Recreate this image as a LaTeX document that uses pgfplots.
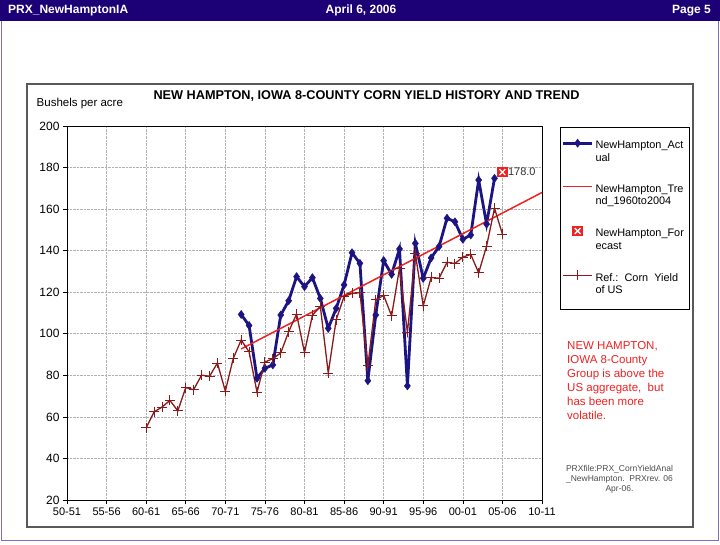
\documentclass[border=0pt]{standalone}
\usepackage{fontspec}
\setmainfont{Liberation Sans}
\usepackage{pgfplots}
\pgfplotsset{compat=1.18}

\definecolor{navyA}{HTML}{1C1483}
\definecolor{usred}{HTML}{8B1A1A}
\definecolor{trendred}{HTML}{EE2222}
\definecolor{fcred}{HTML}{EE2222}
\definecolor{hdr}{HTML}{1C0076}
\definecolor{pborder}{HTML}{8070C0}

\pgfdeclareplotmark{fcast}{%
  \pgfsetfillcolor{fcred}%
  \pgfpathrectangle{\pgfpoint{-\pgfplotmarksize}{-\pgfplotmarksize}}{\pgfpoint{2\pgfplotmarksize}{2\pgfplotmarksize}}%
  \pgfusepathqfill
  \pgfsetstrokecolor{white}%
  \pgfsetlinewidth{1.3pt}%
  \pgfpathmoveto{\pgfpoint{-0.55\pgfplotmarksize}{-0.55\pgfplotmarksize}}%
  \pgfpathlineto{\pgfpoint{0.55\pgfplotmarksize}{0.55\pgfplotmarksize}}%
  \pgfpathmoveto{\pgfpoint{-0.55\pgfplotmarksize}{0.55\pgfplotmarksize}}%
  \pgfpathlineto{\pgfpoint{0.55\pgfplotmarksize}{-0.55\pgfplotmarksize}}%
  \pgfusepathqstroke
}

\pgfplotstableread{
year yield
1972 109.3
1973 104.0
1974 78.6
1975 83.4
1976 85.0
1977 109.0
1978 115.9
1979 127.5
1980 122.7
1981 127.0
1982 117.0
1983 102.6
1984 112.2
1985 123.5
1986 139.0
1987 133.9
1988 77.4
1989 109.0
1990 135.2
1991 128.6
1992 140.8
1993 74.9
1994 143.5
1995 126.7
1996 136.5
1997 142.0
1998 155.6
1999 153.9
2000 145.5
2001 147.5
2002 174.0
2003 152.8
2004 174.8
}\actualdata

\pgfplotstableread{
year yield
1960 54.7
1961 62.4
1962 64.7
1963 67.9
1964 62.9
1965 74.1
1966 73.1
1967 80.1
1968 79.5
1969 85.9
1970 72.4
1971 88.1
1972 97.0
1973 91.3
1974 71.9
1975 86.4
1976 88.0
1977 90.8
1978 101.0
1979 109.5
1980 91.0
1981 108.9
1982 113.2
1983 81.1
1984 106.7
1985 118.0
1986 119.4
1987 119.8
1988 84.6
1989 116.3
1990 118.5
1991 108.6
1992 131.5
1993 100.7
1994 138.6
1995 113.5
1996 127.1
1997 126.7
1998 134.4
1999 133.8
2000 136.9
2001 138.2
2002 129.3
2003 142.2
2004 160.4
2005 148.0
}\usdata

\newcommand{\lent}[2]{\parbox[b]{90pt}{\raggedright #1\\#2}}

\begin{document}
\begin{tikzpicture}[x=1pt,y=1pt]
\useasboundingbox (0,0) rectangle (720,545);
\fill[white] (0,0) rectangle (720,545);
\fill[hdr] (0,524) rectangle (720,545);
\draw[pborder, line width=1.5pt] (1.5,524) -- (1.5,4.5) -- (718.5,4.5) -- (718.5,524);
\node[anchor=west, text=white, font=\bfseries\fontsize{12}{14}\selectfont, inner sep=0pt] at (8,534.5) {PRX\_NewHamptonIA};
\node[anchor=center, text=white, font=\bfseries\fontsize{12}{14}\selectfont, inner sep=0pt] at (361,534.5) {April 6, 2006};
\node[anchor=east, text=white, font=\bfseries\fontsize{12}{14}\selectfont, inner sep=0pt] at (711,534.5) {Page 5};

\draw[black!65, line width=1.2pt] (27,18) rectangle (693,461);

\node[anchor=center, font=\bfseries\fontsize{12.7}{15}\selectfont, inner sep=0pt] at (366.5,449) {NEW HAMPTON, IOWA 8-COUNTY CORN YIELD HISTORY AND TREND};
\node[anchor=west, font=\fontsize{11.5}{14}\selectfont, inner sep=0pt] at (36.5,441) {Bushels per acre};

\node[anchor=north west, align=left, text=fcred, font=\fontsize{11.5}{14}\selectfont, inner sep=0pt] at (567,204) {NEW HAMPTON,\\IOWA 8-County\\Group is above the\\US aggregate,\ \ but\\has been more\\volatile.};
\node[anchor=north, align=center, text=black!70, font=\fontsize{8.5}{10.3}\selectfont, inner sep=0pt] at (619.5,80) {PRXfile:PRX\_CornYieldAnal\\\_NewHampton.\ \ PRXrev. 06\\Apr-06.};

\begin{axis}[
  at={(67pt,45pt)}, anchor=south west, scale only axis,
  width=475pt, height=374pt,
  xmin=1950, xmax=2010, ymin=20, ymax=200,
  xtick={1950,1955,...,2010},
  xticklabels={50-51,55-56,60-61,65-66,70-71,75-76,80-81,85-86,90-91,95-96,00-01,05-06,10-11},
  ytick={20,40,...,200},
  grid=major, major grid style={gray!60, densely dotted, line width=0.6pt},
  xtick pos=bottom, ytick pos=left,
  tick align=outside, major tick length=4pt,
  tick style={black, line width=0.6pt},
  axis line style={black, line width=0.8pt},
  x tick label style={font=\fontsize{11}{13}\selectfont},
  y tick label style={font=\fontsize{12}{14}\selectfont},
  /pgf/number format/assume math mode=true,
  clip=false,
  legend cell align=left,
  legend image code/.code={\draw[mark repeat=2,mark phase=2,#1] plot coordinates {(0pt,9pt) (14.5pt,9pt) (29pt,9pt)};},
  legend style={at={(1.0379,0.9973)}, anchor=north west, draw=black, 
    font=\fontsize{10.9}{12.8}\selectfont, row sep=17.4pt, inner xsep=1.5pt, inner ysep=12pt,
    nodes={inner sep=2pt}},
]
\addplot[color=navyA, draw=navyA, line width=2.8pt, mark=diamond*, mark size=4pt, mark options={solid, line width=0.5pt}] table[x=year,y=yield] {\actualdata};
\addlegendentry{\lent{NewHampton\_Act}{ual}}
\addplot[color=trendred, draw=trendred, line width=1.5pt, no marks] coordinates {(1972,92.7) (2010,168.0)};
\addlegendentry{\lent{NewHampton\_Tre}{nd\_1960to2004}}
\addplot[only marks, mark=fcast, mark size=5.3pt, nodes near coords, point meta=explicit symbolic,
  every node near coord/.append style={anchor=west, font=\fontsize{11}{13}\selectfont, text=black!80, inner sep=1pt, xshift=4pt}]
  coordinates {(2005,177.8) [178.0]};
\addlegendentry{\lent{NewHampton\_For}{ecast}}
\addplot[color=usred, draw=usred, line width=1.3pt, mark=+, mark size=5pt, mark options={solid, line width=1pt}] table[x=year,y=yield] {\usdata};
\addlegendentry{\lent{Ref.:\ \ Corn\ \ Yield}{of US}}
\end{axis}
\end{tikzpicture}
\end{document}
